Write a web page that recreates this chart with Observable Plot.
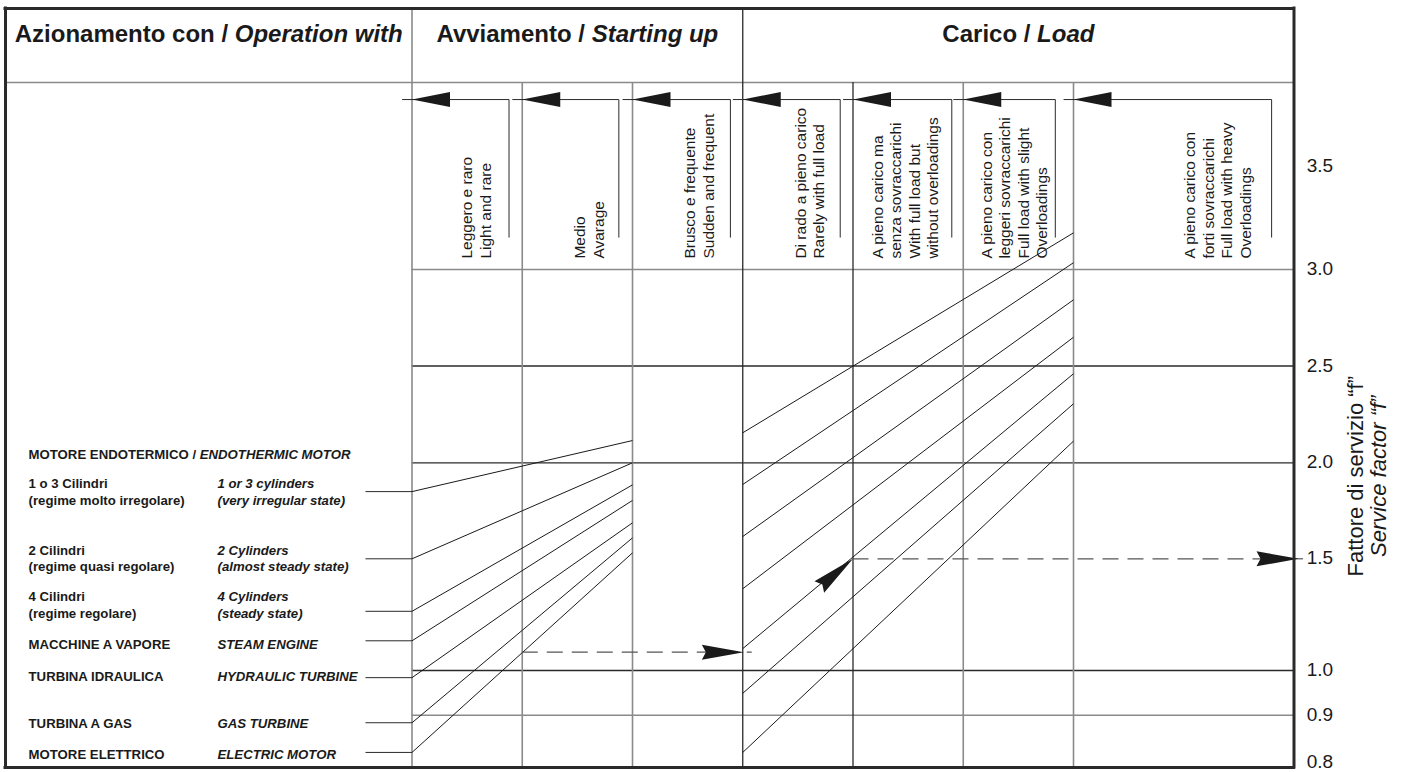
<!DOCTYPE html>
<html>
<head>
<meta charset="utf-8">
<script src="https://cdn.jsdelivr.net/npm/d3@7"></script>
<script src="https://cdn.jsdelivr.net/npm/@observablehq/plot@0.6"></script>
<style>
  html, body { margin: 0; padding: 0; background: #fff; }
  #chart svg { display: block; }
</style>
</head>
<body>
<div id="chart"></div>
<script>
// ================= DATA =================
// Service factor "f" scale ticks
const serviceTicks = [0.8, 0.9, 1.0, 1.5, 2.0, 2.5, 3.0, 3.5];
const gridDark = [2.5, 2.0, 1.0];
const gridLight = [3.0, 0.9];

// Drive type labels (left panel) and the f-level of each text line
const driveLabelsIt = ["1 o 3 Cilindri", "(regime molto irregolare)", "2 Cilindri", "(regime quasi regolare)",
  "4 Cilindri", "(regime regolare)", "MACCHINE A VAPORE", "TURBINA IDRAULICA", "TURBINA A GAS", "MOTORE ELETTRICO"];
const driveLabelsEn = ["1 or 3 cylinders", "(very irregular state)", "2 Cylinders", "(almost steady state)",
  "4 Cylinders", "(steady state)", "STEAM ENGINE", "HYDRAULIC TURBINE", "GAS TURBINE", "ELECTRIC MOTOR"];
const driveLabelF = [1.89, 1.804, 1.543, 1.463, 1.329, 1.255, 1.114, 0.985, 0.8825, 0.821];
const groupTitleIt = "MOTORE ENDOTERMICO / ";
const groupTitleEn = "ENDOTHERMIC MOTOR";
const groupTitleF = 2.043;

// Nomogram lines: starting-up section (column 0 -> column 2)
const driveStubF   = [1.85, 1.50, 1.265, 1.133, 0.984, 0.885, 0.826];
const suddenEndF   = [2.115, 2.00, 1.885, 1.804, 1.6875, 1.609, 1.531];
// Nomogram lines: load section (column 3 -> column 6)
const loadStartF   = [2.155, 1.887, 1.616, 1.366, 1.098, 0.949, 0.826];
const loadEndF     = [3.178, 3.033, 2.843, 2.649, 2.46, 2.305, 2.112];

// Worked example (dashed guides)
const exampleStartCol = [1];
const exampleStartF = [1.082];
const exampleResultCol = [4];
const exampleResultF = [1.5];

// Column headers
const headerRoman  = ["Azionamento con / ", "Avviamento / ", "Carico / "];
const headerItalic = ["Operation with", "Starting up", "Load"];

// Condition columns (left edge, right edge) and their labels
const conditionLeft  = [0, 1, 2, 3, 4, 5, 6];
const conditionRight = [1, 2, 3, 4, 5, 6, 8];
const conditionLabels = [
  ["Leggero e raro", "Light and rare"],
  ["Medio", "Avarage"],
  ["Brusco e frequente", "Sudden and frequent"],
  ["Di rado a pieno carico", "Rarely with full load"],
  ["A pieno carico ma", "senza sovraccarichi", "With full load but", "without overloadings"],
  ["A pieno carico con", "leggeri sovraccarichi", "Full load with slight", "Overloadings"],
  ["A pieno carico con", "forti sovraccarichi", "Full load with heavy", "Overloadings"]
];

const axisTitleIt = "Fattore di servizio “f”";
const axisTitleEn = "Service factor “f”";

// ================= LAYOUT (scale stops & placement) =================
// non-uniform service-factor axis of the nomogram: tick -> vertical position
const tickPos = [765, 714.7, 670, 558.3, 462.3, 365.5, 269, 166];
const fAxis = d3.scaleLinear().domain(serviceTicks).range(tickPos);
const xLeft = -3.687, xRight = 8;
const yTop = 4.267, yBottom = 0.796, yHeader = 3.908, yHeaderText = 4.143;
const yBracket = 3.825, yBracketBottom = 3.155, yLabelBase = 3.053;
const bracketInset = [0.12, 0.124, 0.112, 0.116, 0.104, 0.165, 0.203];
const labelInset   = [0.331, 0.306, 0.308, 0.304, 0.273, 0.284, 0.435];
const labelGap = 0.168;
const FONT = "'Liberation Sans', Arial, Helvetica, sans-serif";
const DARK = "#2a2a2a", GRAY = "#8a8a8a", INK = "#1a1a1a";

const ctx = document.createElement("canvas").getContext("2d");
function tw(str, font) { ctx.font = font; return ctx.measureText(str).width; }

function arrowSymbol(angleDeg, len, half, notch) {
  const a = angleDeg * Math.PI / 180, c = Math.cos(a), s = Math.sin(a);
  const pts = [[0, 0], [-len, -half], [-len + notch, 0], [-len, half]]
    .map(([px, py]) => [px * c - py * s, px * s + py * c]);
  return {
    draw(context) {
      context.moveTo(pts[0][0], pts[0][1]);
      for (let i = 1; i < pts.length; i++) context.lineTo(pts[i][0], pts[i][1]);
      context.closePath();
    }
  };
}
const arrowLeft = arrowSymbol(180, 38, 7.5, 0);
const arrowRight = arrowSymbol(0, 42, 7.5, 4);
const arrowDiag = arrowSymbol(-40, 44, 7.5, 4);

// header text marks (roman + italic parts centered together)
const headerCenters = [(xLeft + 0) / 2, 1.5, 5.5];
const headerMarks = [];
headerRoman.forEach((r, i) => {
  const fR = `bold 24px ${FONT}`, fI = `italic bold 24px ${FONT}`;
  const wR = tw(r, fR), wI = tw(headerItalic[i], fI);
  const start = -(wR + wI) / 2;
  headerMarks.push(Plot.text([r], {x: headerCenters[i], y: yHeaderText, text: d => d, textAnchor: "start",
    dx: start, fontSize: 24, fontWeight: "bold", fill: INK, lineAnchor: "middle"}));
  headerMarks.push(Plot.text([headerItalic[i]], {x: headerCenters[i], y: yHeaderText, text: d => d, textAnchor: "start",
    dx: start + wR, fontSize: 24, fontWeight: "bold", fontStyle: "italic", fill: INK, lineAnchor: "middle"}));
});

// condition label rows
const condRows = [];
conditionLabels.forEach((lines, c) => {
  const n = lines.length;
  lines.forEach((t, i) => condRows.push({
    x: conditionRight[c] - labelInset[c] - (n - 1 - i) * labelGap, t
  }));
});

const idx7 = d3.range(7);
const idx10 = d3.range(10);
const textXIt = -3.478, textXEn = -1.764, stubX = -0.422;
const groupShift = tw(groupTitleIt, `bold 13.2px ${FONT}`);
const upperTicks = serviceTicks.slice(1);
const lowestTick = serviceTicks.slice(0, 1);

const chart = Plot.plot({
  width: 1402,
  height: 772,
  marginTop: 0, marginRight: 0, marginBottom: 0, marginLeft: 0,
  x: {domain: [0, 8], range: [411.5, 1293.5], axis: null},
  y: {transform: fAxis, domain: [0, 772], range: [0, 772], axis: null},
  style: {background: "#fff", fontFamily: FONT, color: INK},
  marks: [
    // grid lines
    Plot.ruleY(gridLight, {x1: 0, x2: 8, stroke: GRAY, strokeWidth: 1.5}),
    Plot.ruleY(gridDark, {x1: 0, x2: 8, stroke: DARK, strokeWidth: 1.3}),
    Plot.ruleY([yHeader], {x1: xLeft, x2: xRight, stroke: GRAY, strokeWidth: 1.6}),
    // column lines
    Plot.ruleX([0], {y1: yBottom, y2: yTop, stroke: GRAY, strokeWidth: 1.6}),
    Plot.ruleX([3], {y1: yBottom, y2: yTop, stroke: DARK, strokeWidth: 1.3}),
    Plot.ruleX([1, 2, 5, 6], {y1: yBottom, y2: yHeader, stroke: GRAY, strokeWidth: 1.6}),
    Plot.ruleX([4], {y1: yBottom, y2: yHeader, stroke: DARK, strokeWidth: 1.3}),
    // brackets for condition labels
    Plot.link(idx7, {x1: i => conditionRight[i] - bracketInset[i], x2: i => conditionRight[i] - bracketInset[i],
      y1: yBracketBottom, y2: yBracket, stroke: DARK, strokeWidth: 1}),
    Plot.link(idx7, {x1: i => conditionRight[i] - bracketInset[i], x2: i => conditionLeft[i] - 0.09,
      y1: yBracket, y2: yBracket, stroke: DARK, strokeWidth: 1}),
    Plot.dot(conditionLeft, {x: d => d, y: yBracket, symbol: arrowLeft, r: 10, fill: INK, stroke: "none"}),
    // condition labels (rotated)
    Plot.text(condRows, {x: "x", y: yLabelBase, text: "t", rotate: -90, textAnchor: "start", lineAnchor: "middle",
      fontSize: 15.5, fill: INK}),
    // drive stubs and starting-up lines
    Plot.link(idx7, {x1: stubX, x2: 0, y1: i => driveStubF[i], y2: i => driveStubF[i], stroke: DARK, strokeWidth: 1}),
    Plot.link(idx7, {x1: 0, x2: 2, y1: i => driveStubF[i], y2: i => suddenEndF[i], stroke: INK, strokeWidth: 1}),
    // load lines
    Plot.link(idx7, {x1: 3, x2: 6, y1: i => loadStartF[i], y2: i => loadEndF[i], stroke: INK, strokeWidth: 1}),
    // example dashed guides
    Plot.ruleY(exampleStartF, {x1: exampleStartCol[0], x2: 3.086, stroke: "#555", strokeWidth: 1.3, strokeDasharray: "16,9"}),
    Plot.dot(exampleStartF, {x: 3.01, y: d => d, symbol: arrowRight, r: 10, fill: INK, stroke: "none"}),
    Plot.dot(exampleResultF, {x: exampleResultCol[0], y: d => d, symbol: arrowDiag, r: 10, fill: INK, stroke: "none"}),
    Plot.ruleY(exampleResultF, {x1: exampleResultCol[0], x2: 7.95, stroke: "#555", strokeWidth: 1.3, strokeDasharray: "16,9"}),
    Plot.ruleY(exampleResultF, {x1: 7.9, x2: 8.086, stroke: "#555", strokeWidth: 1.2}),
    Plot.dot(exampleResultF, {x: 8.041, y: d => d, symbol: arrowRight, r: 10, fill: INK, stroke: "none"}),
    // outer frame
    Plot.ruleY([yTop, yBottom], {x1: xLeft, x2: xRight, stroke: DARK, strokeWidth: 3, strokeLinecap: "square"}),
    Plot.ruleX([xLeft, xRight], {y1: yBottom, y2: yTop, stroke: DARK, strokeWidth: 3, strokeLinecap: "square"}),
    // headers
    ...headerMarks,
    // left panel labels
    Plot.text([groupTitleIt], {x: textXIt, y: groupTitleF, text: d => d, textAnchor: "start", fontSize: 13.2,
      fontWeight: "bold", fill: INK, lineAnchor: "middle"}),
    Plot.text([groupTitleEn], {x: textXIt, y: groupTitleF, dx: groupShift, text: d => d, textAnchor: "start", fontSize: 13.2,
      fontWeight: "bold", fontStyle: "italic", fill: INK, lineAnchor: "middle"}),
    Plot.text(idx10, {x: textXIt, y: i => driveLabelF[i], text: i => driveLabelsIt[i], textAnchor: "start",
      fontSize: 13.2, fontWeight: "bold", fill: INK, lineAnchor: "middle"}),
    Plot.text(idx10, {x: textXEn, y: i => driveLabelF[i], text: i => driveLabelsEn[i], textAnchor: "start",
      fontSize: 13.2, fontWeight: "bold", fontStyle: "italic", fill: INK, lineAnchor: "middle"}),
    // service factor tick labels
    Plot.text(upperTicks, {x: 8.115, y: d => d, dy: -0.5, text: d => d.toFixed(1), textAnchor: "start", fontSize: 19,
      fill: INK, lineAnchor: "middle"}),
    Plot.text(lowestTick, {x: 8.115, y: d => d, dy: -4, text: d => d.toFixed(1), textAnchor: "start", fontSize: 19,
      fill: INK, lineAnchor: "middle"}),
    // axis title
    Plot.text([axisTitleIt], {x: 8.558, y: 1.93, text: d => d, rotate: -90, fontSize: 22, fill: INK, lineAnchor: "middle"}),
    Plot.text([axisTitleEn], {x: 8.772, y: 1.93, text: d => d, rotate: -90, fontSize: 22, fontStyle: "italic",
      fill: INK, lineAnchor: "middle"})
  ]
});
document.getElementById("chart").appendChild(chart);
</script>
</body>
</html>
